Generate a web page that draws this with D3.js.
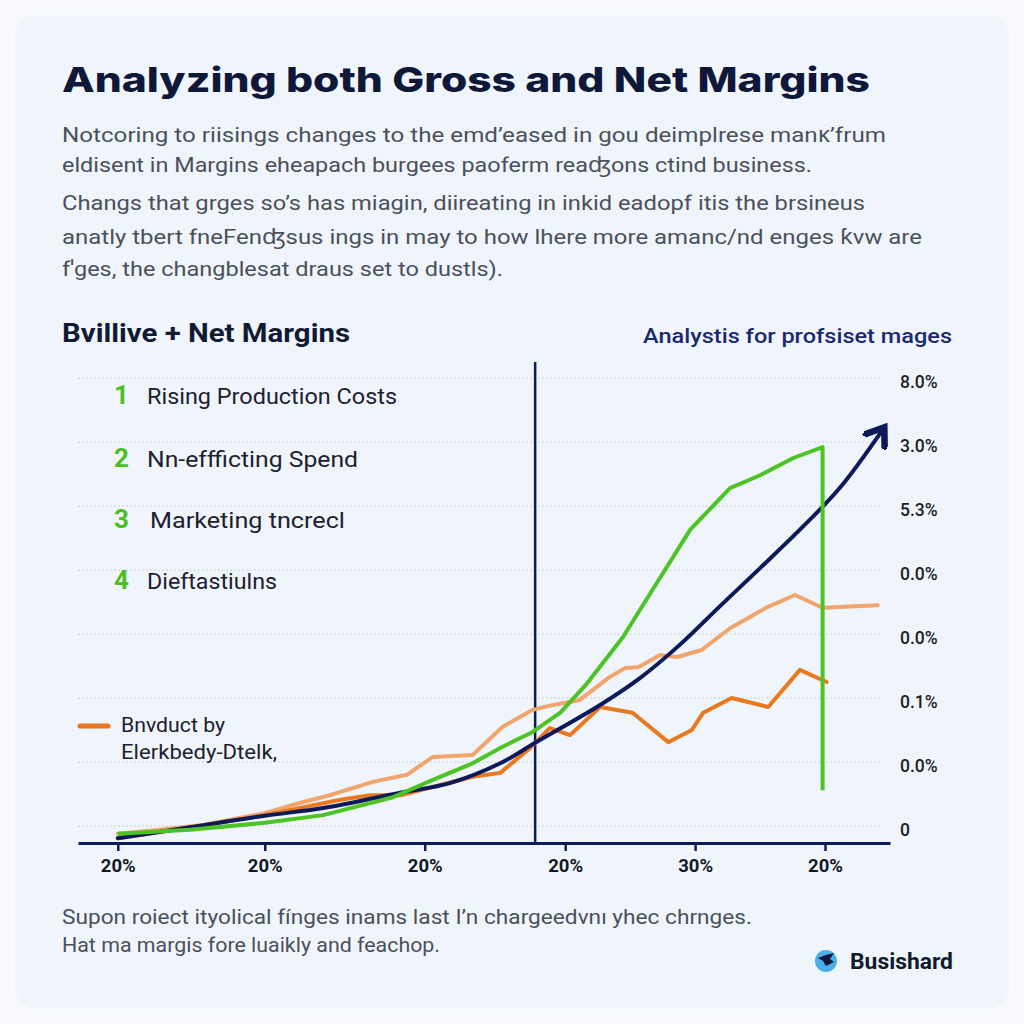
<!DOCTYPE html>
<html><head><meta charset="utf-8">
<script src="https://cdn.jsdelivr.net/npm/d3@7"></script>
<style>html,body{margin:0;padding:0;background:#f3f7fb;}svg{display:block;}</style>
</head><body>
<svg id="c" width="1024" height="1024"></svg>
<script>
// ---- data ----
const xTickLabels = ["20%","20%","20%","20%","30%","20%"];
const xTickValues = [4.9, 23.0, 42.7, 60.0, 76.0, 92.0];
const yTickLabels = ["0","0.0%","0.1%","0.0%","0.0%","5.3%","3.0%","8.0%"];
const yTickValues = [0,1,2,3,4,5,6,7];

const grossX = [4.9,10.1,15.6,23.0,27.3,31.0,36.3,40.5,43.7,48.6,52.3,55.9,58.1,61.8,65.5,67.4,69.0,71.7,73.8,76.8,80.3,84.9,88.3,91.7,98.5];
const grossY = [-0.12,-0.06,0.02,0.20,0.36,0.48,0.69,0.80,1.08,1.11,1.55,1.81,1.88,1.97,2.33,2.47,2.48,2.67,2.64,2.75,3.09,3.42,3.61,3.41,3.45];

const netX = [4.9,15.0,23.0,32.3,36.0,39.7,44.6,48.6,52.0,55.7,58.1,60.6,64.3,68.3,72.7,75.6,77.0,80.5,85.0,88.9,92.2];
const netY = [-0.19,0.0,0.17,0.41,0.48,0.48,0.64,0.77,0.83,1.22,1.53,1.42,1.86,1.77,1.31,1.50,1.77,2.0,1.86,2.44,2.25];

const trendX = [4.9,13.8,23.0,30.2,39.7,45.8,52.0,56.3,64.3,69.2,74.1,79.1,84.0,88.9,93.8,99.3];
const trendY = [-0.19,-0.02,0.16,0.28,0.52,0.67,0.98,1.30,1.89,2.31,2.83,3.44,4.03,4.63,5.28,6.23];

const costX = [4.9,13.8,23.0,30.2,38.8,43.7,48.6,52.0,56.0,59.4,62.7,67.1,71.3,75.4,80.3,84.0,88.1,91.7,91.7];
const costY = [-0.12,-0.06,0.05,0.17,0.45,0.72,0.98,1.22,1.47,1.77,2.23,2.95,3.80,4.63,5.28,5.48,5.75,5.92,0.56];

const markerX = 56.3;

const listItems = ["Rising Production Costs","Nn-effficting Spend","Marketing tncrecl","Dieftastiulns"];
const paraLines = [
  "Notcoring to riisings changes to the emdʼeased in gou deimplrese manᴋʼfrum",
  "eldisent in Margins eheapach burgees paoferm reaʤons ctind business.",
  "Changs that grges so’s has miagin, diireating in inkid eadopf itis the brsineus",
  "anatly tbert fneFenʤsus ings in may to how lhere more amanc/nd enges ƙvw are",
  "fˈges, the changblesat draus set to dustls)."
];
const footLines = [
  "Supon roiect ityolical fínges inams last I’n chargeedvnı yhec chrnges.",
  "Hat ma margis fore luaikly and feachop."
];

// ---- drawing ----
const svg = d3.select("#c");
svg.append("rect").attr("x",0).attr("y",0).attr("width",1024).attr("height",1024).attr("fill","#f7f9fc");
svg.append("rect").attr("x",14).attr("y",14).attr("width",996).attr("height",996).attr("rx",22)
  .attr("fill","#eff5fb").attr("stroke","#f8fafd").attr("stroke-width",2);

const defs = svg.append("defs");
defs.append("marker").attr("id","arr").attr("viewBox","0 0 12 12").attr("refX",8).attr("refY",6)
  .attr("markerWidth",7).attr("markerHeight",7).attr("markerUnits","strokeWidth").attr("orient","auto")
  .append("path").attr("d","M1,1 L8,6 L1,11").attr("fill","none").attr("stroke","#0c1a5c")
  .attr("stroke-width",2.8).attr("stroke-linecap","round").attr("stroke-linejoin","miter");

// title
svg.append("text").attr("x",62).attr("y",92).text("Analyzing both Gross and Net Margins")
  .attr("font-family","Inter, 'Liberation Sans', sans-serif").attr("font-weight",800).attr("font-size",34)
  .attr("fill","#0f1838").attr("textLength",808).attr("lengthAdjust","spacingAndGlyphs");

const paraW = [824, 750, 803, 860, 441];
const paraY = [142, 172, 210, 244, 276];
paraLines.forEach((t,i)=>{
  svg.append("text").attr("x",62).attr("y",paraY[i]).text(t)
    .attr("font-family","Roboto, 'Noto Sans', sans-serif").attr("font-size",21).attr("fill","#4b505c")
    .attr("textLength",paraW[i]).attr("lengthAdjust","spacingAndGlyphs");
});

svg.append("text").attr("x",62).attr("y",342).text("Bvillive + Net Margins")
  .attr("font-family","Roboto, sans-serif").attr("font-weight",700).attr("font-size",25).attr("fill","#111a33")
  .attr("textLength",288).attr("lengthAdjust","spacingAndGlyphs");
svg.append("text").attr("x",643).attr("y",343).text("Analystis for profsiset mages")
  .attr("font-family","Roboto, sans-serif").attr("font-weight",500).attr("font-size",20).attr("fill","#1b2a6b")
  .attr("textLength",309).attr("lengthAdjust","spacingAndGlyphs");

// scales
const x = d3.scaleLinear().domain([0,100]).range([78,890]);
const y = d3.scaleLinear().domain([0,7]).range([826,378]);

// grid
const g = svg.append("g");
g.selectAll("line.grid").data(yTickValues).join("line").attr("class","grid")
  .attr("x1",x(0)).attr("x2",x(99)).attr("y1",d=>y(d)).attr("y2",d=>y(d))
  .attr("stroke","#c9ced6").attr("stroke-width",1).attr("stroke-dasharray","2,2");

// y axis labels (right)
const yAxis = d3.axisRight(y).tickValues(yTickValues).tickFormat((d,i)=>yTickLabels[i]).tickSize(0).tickPadding(0);
const ya = svg.append("g").attr("transform","translate(900,0)").call(yAxis);
ya.select(".domain").remove();
ya.selectAll("text").attr("font-family","Roboto, sans-serif").attr("font-weight",500).attr("font-size",17.5)
  .attr("fill","#1a1d26").attr("dy","0.55em");

// list items
const listY = [404, 467, 528, 589];
const listW = [250, 211, 195, 130];
listItems.forEach((t,i)=>{
  svg.append("text").attr("x",114).attr("y",listY[i]).text(String(i+1))
    .attr("font-family","Roboto, sans-serif").attr("font-weight",700).attr("font-size",26).attr("fill","#4cbf24");
  svg.append("text").attr("x",i===2?150:147).attr("y",listY[i]).text(t)
    .attr("font-family","Roboto, sans-serif").attr("font-size",22).attr("fill","#1d2030")
    .attr("textLength",listW[i]).attr("lengthAdjust","spacingAndGlyphs");
});

// legend
svg.append("line").attr("x1",80).attr("x2",108).attr("y1",726).attr("y2",726)
  .attr("stroke","#e8771f").attr("stroke-width",5).attr("stroke-linecap","round");
svg.append("text").attr("x",121).attr("y",732).text("Bnvduct by")
  .attr("font-family","Roboto, sans-serif").attr("font-size",20).attr("fill","#1d2030")
  .attr("textLength",104).attr("lengthAdjust","spacingAndGlyphs");
svg.append("text").attr("x",121).attr("y",759).text("Elerkbedy-Dtelk,")
  .attr("font-family","Roboto, sans-serif").attr("font-size",20).attr("fill","#1d2030")
  .attr("textLength",156).attr("lengthAdjust","spacingAndGlyphs");

// marker vertical line
svg.append("line").attr("x1",x(markerX)).attr("x2",x(markerX)).attr("y1",y(7.25)).attr("y2",843)
  .attr("stroke","#0c1a5c").attr("stroke-width",2.5);

// series
const mk = (xs,ys)=>xs.map((v,i)=>[v,ys[i]]);
const lineLin = d3.line().x(d=>x(d[0])).y(d=>y(d[1])).curve(d3.curveLinear);
const lineSmooth = d3.line().x(d=>x(d[0])).y(d=>y(d[1])).curve(d3.curveCatmullRom.alpha(0.5));

svg.append("path").datum(mk(grossX,grossY)).attr("d",lineLin).attr("fill","none")
  .attr("stroke","#f1a46c").attr("stroke-width",4).attr("stroke-linejoin","round").attr("stroke-linecap","round");
svg.append("path").datum(mk(netX,netY)).attr("d",lineLin).attr("fill","none")
  .attr("stroke","#e9781f").attr("stroke-width",4).attr("stroke-linejoin","round").attr("stroke-linecap","round");
svg.append("path").datum(mk(trendX,trendY)).attr("d",lineSmooth).attr("fill","none")
  .attr("stroke","#0c1a5c").attr("stroke-width",4).attr("stroke-linecap","round").attr("marker-end","url(#arr)");
svg.append("path").datum(mk(costX,costY)).attr("d",lineLin).attr("fill","none")
  .attr("stroke","#4cc424").attr("stroke-width",4).attr("stroke-linejoin","round");

// x axis
const xAxis = d3.axisBottom(x).tickValues(xTickValues).tickFormat((d,i)=>xTickLabels[i]).tickSize(8).tickPadding(8).tickSizeOuter(0);
const xa = svg.append("g").attr("transform","translate(0,843)").call(xAxis);
xa.select(".domain").attr("stroke","#0c1a5c").attr("stroke-width",3);
xa.selectAll(".tick line").attr("stroke","#0c1a5c").attr("stroke-width",2.5);
xa.selectAll("text").attr("font-family","Roboto, sans-serif").attr("font-weight",700).attr("font-size",18.5).attr("fill","#141824");

// footer
const footY = [924, 952];
const footW = [690, 378];
footLines.forEach((t,i)=>{
  svg.append("text").attr("x",62).attr("y",footY[i]).text(t)
    .attr("font-family","Roboto, sans-serif").attr("font-size",20).attr("fill","#4b505c")
    .attr("textLength",footW[i]).attr("lengthAdjust","spacingAndGlyphs");
});

// logo
svg.append("circle").attr("cx",826).attr("cy",961).attr("r",11).attr("fill","#4aaeea");
svg.append("path").attr("d","M818,958 L826,955 L834,953 L830,959 L834,962 L826,966 L823,961 Z").attr("fill","#0f1838");
svg.append("text").attr("x",850).attr("y",969).text("Busishard")
  .attr("font-family","Roboto, sans-serif").attr("font-weight",700).attr("font-size",22).attr("fill","#111a2e")
  .attr("textLength",103).attr("lengthAdjust","spacingAndGlyphs");
</script>
</body></html>
